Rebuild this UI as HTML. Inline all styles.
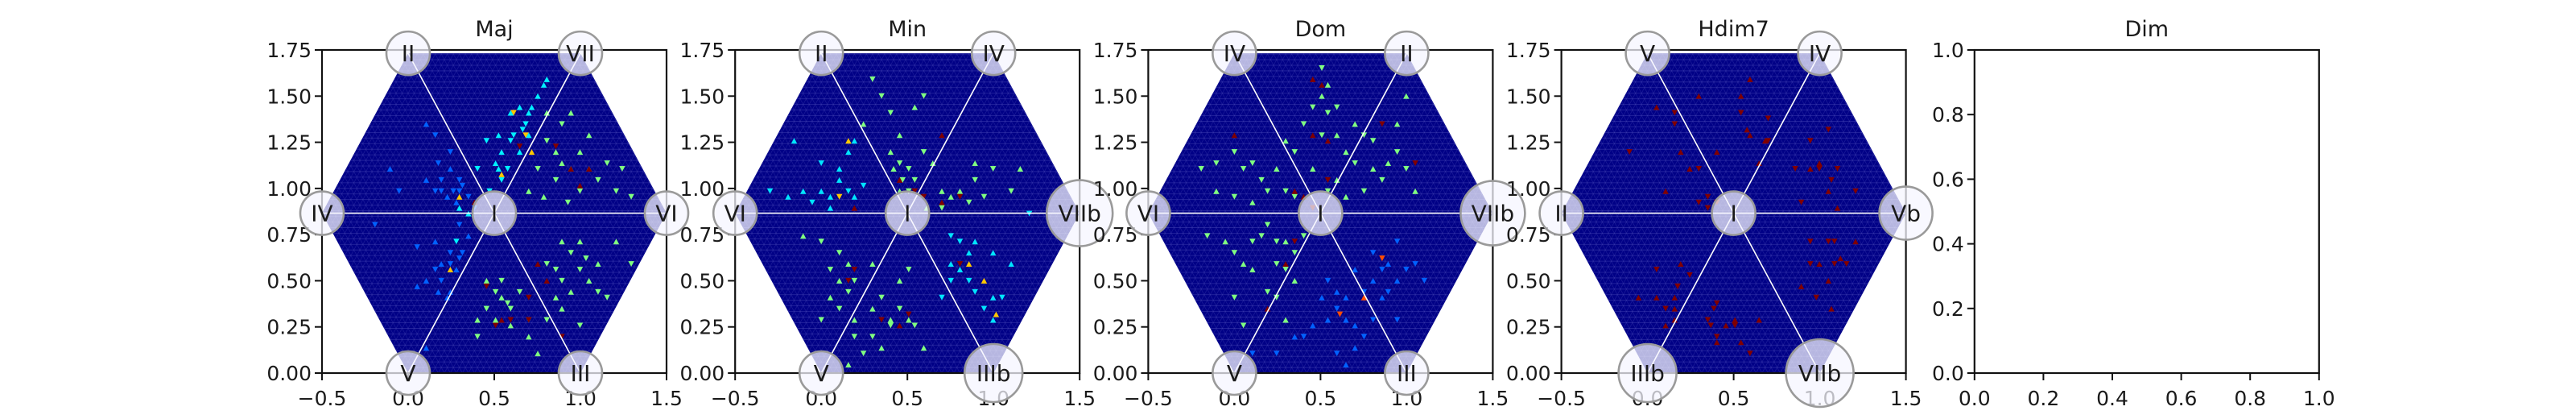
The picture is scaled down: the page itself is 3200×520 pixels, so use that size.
<!DOCTYPE html>
<html><head><meta charset="utf-8"><style>
html,body{margin:0;padding:0;background:#fff;width:3200px;height:520px;overflow:hidden}
svg{display:block}
text{font-family:"DejaVu Sans","Liberation Sans",sans-serif;fill:#1a1a1a}
</style></head><body>
<svg id="fig" width="3200" height="520" viewBox="0 0 3200 520" xmlns="http://www.w3.org/2000/svg"></svg>
<script>
// ---- data ----
const panelTitles = ["Maj","Min","Dom","Hdim7","Dim"];
const xTickLabels = ["−0.5","0.0","0.5","1.0","1.5"];
const xTickValues = [-0.5,0,0.5,1,1.5];
const yTickValues = [0,0.25,0.5,0.75,1,1.25,1.5,1.75];
const yTickLabels = ["0.00","0.25","0.50","0.75","1.00","1.25","1.50","1.75"];
const dimTickValues = [0,0.2,0.4,0.6,0.8,1];
const dimTickLabels = ["0.0","0.2","0.4","0.6","0.8","1.0"];
// vertex labels: center, left, right, top-left, top-right, bottom-left, bottom-right
const majLabels = ["I","IV","VI","II","VII","V","III"];
const minLabels = ["I","VI","VIIb","II","IV","V","IIIb"];
const domLabels = ["I","VI","VIIb","IV","II","V","III"];
const hdimLabels = ["I","II","Vb","V","IV","IIIb","VIIb"];
const minRadii = [27,27,41,27,27,27,36];
const domRadii = [27,27,40,27,27,27,27];
const hdimRadii = [27,27,33,27,27,36,42];
const majRadii = [27,27,27,27,27,27,27];
// cells: [x, y, value]
const majCells = [
[0.1,1.05,.22],[0.15,1.0,.22],[0.2,1.05,.22],[0.25,1.1,.22],[0.3,1.05,.22],[0.3,0.98,.22],[0.35,0.95,.22],[0.28,0.92,.22],[0.22,0.95,.22],[0.32,1.02,.22],[0.38,0.9,.22],[0.18,1.15,.22],[0.25,1.2,.22],[0.15,1.3,.22],[0.1,1.35,.22],[-0.1,1.1,.22],[-0.05,1.0,.22],[0.3,0.8,.22],[0.35,0.75,.22],[0.25,0.65,.22],[0.2,0.6,.22],[0.3,0.62,.22],[0.15,0.55,.22],[0.2,0.5,.22],[0.25,0.45,.22],[0.1,0.5,.22],[0.05,0.48,.22],[0.22,0.4,.22],[0.28,0.55,.22],[0.32,0.66,.22],[-0.2,0.8,.22],[0.05,0.68,.22],[0.1,0.15,.22],[0.15,0.7,.22],[0.27,1.0,.22],[0.2,0.98,.22],[0.24,0.58,.22],[0.18,0.44,.22],
[0.5,1.15,.36],[0.55,1.2,.36],[0.6,1.25,.36],[0.62,1.3,.36],[0.68,1.35,.36],[0.7,1.4,.36],[0.72,1.45,.36],[0.75,1.5,.36],[0.78,1.55,.36],[0.55,1.05,.36],[0.48,1.0,.36],[0.58,1.12,.36],[0.65,1.2,.36],[0.7,1.28,.36],[0.45,1.25,.36],[0.52,1.3,.36],[0.6,1.4,.36],[0.65,1.45,.36],[0.8,1.6,.36],[0.3,0.9,.36],[0.28,0.7,.36],[0.35,0.85,.36],[0.4,1.1,.36],[0.52,1.1,.36],[0.66,1.33,.36],
[0.55,1.07,.68],[0.62,1.42,.68],[0.68,1.3,.68],[0.3,0.95,.68],[0.25,0.55,.68],[0.72,1.2,.68],
[0.8,1.25,.5],[0.85,1.2,.5],[0.9,1.15,.5],[0.75,1.1,.5],[0.7,1.0,.5],[0.78,0.95,.5],[0.85,1.05,.5],[0.95,1.1,.5],[1.0,1.2,.5],[1.05,1.1,.5],[1.1,1.05,.5],[1.15,1.15,.5],[1.0,1.0,.5],[0.92,0.92,.5],[1.2,1.0,.5],[1.25,1.1,.5],[0.9,1.35,.5],[0.95,1.4,.5],[1.05,1.3,.5],[1.3,0.95,.5],[0.8,1.4,.5],
[0.5,0.45,.5],[0.55,0.4,.5],[0.45,0.35,.5],[0.4,0.3,.5],[0.5,0.3,.5],[0.6,0.35,.5],[0.65,0.45,.5],[0.55,0.5,.5],[0.6,0.25,.5],[0.7,0.3,.5],[0.7,0.2,.5],[0.75,0.1,.5],[0.8,0.6,.5],[0.85,0.55,.5],[0.9,0.5,.5],[0.95,0.45,.5],[1.0,0.55,.5],[1.05,0.5,.5],[1.1,0.6,.5],[0.9,0.7,.5],[0.95,0.65,.5],[1.0,0.7,.5],[1.1,0.45,.5],[1.15,0.4,.5],[0.9,0.35,.5],[1.0,0.25,.5],[0.85,0.4,.5],[0.8,0.3,.5],[1.2,0.7,.5],[1.3,0.6,.5],[0.45,0.5,.5],[0.4,0.2,.5],[0.58,0.38,.5],[1.03,0.62,.5],
[0.85,1.22,1],[0.95,1.12,1],[1.05,1.12,1],[0.75,0.6,1],[0.8,0.5,1],[0.45,0.46,1],[0.5,0.25,1],[0.55,0.3,1],[0.6,0.28,1],[0.7,0.28,1],[0.9,0.2,1],[0.7,0.42,1],[1.0,1.02,1],[0.65,1.22,1],[0.38,0.93,1]];
const minCells = [
[0.3,1.6,.5],[0.35,1.5,.5],[0.55,1.45,.5],[0.6,1.5,.5],[0.4,1.4,.5],[0.25,1.35,.5],[0.45,1.3,.5],[0.4,1.2,.5],[0.45,1.15,.5],[0.5,1.1,.5],[0.55,1.05,.5],[0.5,1.0,.5],[0.45,0.98,.5],[0.6,1.2,.5],[0.65,1.15,.5],[0.7,1.0,.5],[0.75,0.95,.5],[0.8,1.0,.5],[0.85,0.92,.5],[0.9,1.05,.5],[0.95,0.95,.5],[1.0,1.1,.5],[0.9,1.15,.5],[1.1,1.0,.5],[1.15,1.12,.5],[0.62,0.9,.5],[0.7,0.88,.5],[0.42,1.1,.5],[0.48,1.05,.5],
[-0.1,0.75,.5],[0.0,0.7,.5],[0.1,0.65,.5],[0.15,0.6,.5],[0.05,0.55,.5],[0.1,0.5,.5],[0.2,0.5,.5],[0.15,0.45,.5],[0.05,0.4,.5],[0.1,0.35,.5],[0.0,0.3,.5],[0.2,0.3,.5],[0.3,0.35,.5],[0.35,0.4,.5],[0.4,0.3,.5],[0.45,0.35,.5],[0.5,0.3,.5],[0.3,0.2,.5],[0.35,0.15,.5],[0.4,0.25,.5],[0.25,0.1,.5],[0.15,0.05,.5],[0.2,0.2,.5],[0.55,0.25,.5],[0.6,0.15,.5],[0.45,0.5,.5],[0.5,0.55,.5],[0.3,0.6,.5],
[-0.3,0.98,.35],[-0.2,0.95,.35],[-0.1,1.0,.35],[-0.05,0.92,.35],[0.0,0.98,.35],[0.05,0.95,.35],[0.1,1.05,.35],[0.15,1.0,.35],[0.2,0.95,.35],[0.25,1.02,.35],[0.0,1.15,.35],[0.1,1.12,.35],[0.15,1.2,.35],[0.2,1.25,.35],[-0.15,1.25,.35],[0.05,0.9,.35],[0.75,0.75,.35],[0.8,0.7,.35],[0.85,0.65,.35],[0.75,0.6,.35],[0.8,0.55,.35],[0.85,0.5,.35],[0.9,0.45,.35],[0.75,0.5,.35],[1.0,0.4,.35],[1.05,0.4,.35],[0.95,0.35,.35],[1.0,0.3,.35],[1.1,0.6,.35],[1.2,0.85,.35],[0.9,0.7,.35],[1.0,0.65,.35],[0.7,0.4,.35],
[0.85,0.58,.68],[0.95,0.5,.68],[1.02,0.32,.68],[0.15,1.27,.68],[0.1,0.95,.68],
[0.45,1.05,1],[0.55,0.98,1],[0.6,0.95,1],[0.7,0.92,1],[0.8,0.95,1],[0.7,1.3,1],[0.2,0.55,1],[0.15,0.5,1],[0.35,0.3,1],[0.45,0.25,1],[0.5,0.32,1],[0.8,0.6,1],[0.2,0.9,1]];
const domCells = [
[0.5,1.65,.5],[0.55,1.55,.5],[0.5,1.5,.5],[0.45,1.45,.5],[0.55,1.4,.5],[0.6,1.45,.5],[0.4,1.35,.5],[0.5,1.3,.5],[0.6,1.3,.5],[0.7,1.35,.5],[0.75,1.3,.5],[0.8,1.25,.5],[0.65,1.2,.5],[0.7,1.15,.5],[0.8,1.1,.5],[0.85,1.05,.5],[0.9,1.15,.5],[0.95,1.2,.5],[1.0,1.1,.5],[1.05,1.0,.5],[0.75,1.0,.5],[0.65,0.95,.5],[0.6,1.05,.5],[0.55,1.0,.5],[0.45,1.1,.5],[0.35,1.2,.5],[0.3,1.25,.5],[0.95,1.35,.5],[1.0,1.5,.5],
[-0.2,1.1,.5],[-0.1,1.15,.5],[0.0,1.2,.5],[0.05,1.1,.5],[0.1,1.15,.5],[0.15,1.05,.5],[0.2,1.0,.5],[0.25,1.1,.5],[0.3,1.0,.5],[0.35,0.95,.5],[-0.1,1.0,.5],[0.0,0.95,.5],[0.1,0.92,.5],[-0.15,0.75,.5],[-0.05,0.7,.5],[0.0,0.65,.5],[0.1,0.7,.5],[0.15,0.75,.5],[0.2,0.8,.5],[0.25,0.72,.5],[0.3,0.7,.5],[0.35,0.65,.5],[0.25,0.6,.5],[0.3,0.55,.5],[0.35,0.5,.5],[0.2,0.45,.5],[0.1,0.55,.5],[0.05,0.6,.5],[0.4,0.75,.5],[0.0,0.4,.5],[0.05,0.25,.5],[0.25,0.4,.5],[0.3,0.3,.5],
[0.55,0.5,.22],[0.6,0.45,.22],[0.65,0.4,.22],[0.6,0.35,.22],[0.55,0.3,.22],[0.65,0.3,.22],[0.7,0.25,.22],[0.75,0.2,.22],[0.7,0.15,.22],[0.8,0.5,.22],[0.85,0.55,.22],[0.9,0.6,.22],[0.95,0.5,.22],[1.0,0.55,.22],[1.05,0.6,.22],[0.9,0.45,.22],[0.85,0.4,.22],[0.75,0.45,.22],[0.8,0.65,.22],[0.95,0.7,.22],[0.5,0.4,.22],[0.45,0.25,.22],[0.4,0.2,.22],[0.35,0.2,.22],[0.6,0.1,.22],[0.65,0.05,.22],[0.25,0.1,.22],[0.1,0.1,.22],[1.1,0.5,.22],[0.95,0.3,.22],[0.8,0.3,.22],[0.7,0.55,.22],
[0.62,0.32,.8],[0.75,0.42,.8],[0.85,0.62,.8],
[0.45,1.6,1],[0.5,1.55,1],[0.45,1.28,1],[0.55,1.25,1],[0.35,1.0,1],[0.4,0.95,1],[0.45,0.9,1],[0.55,1.05,1],[0.85,1.35,1],[1.05,1.15,1],[0.35,0.7,1],[0.3,0.58,1],[0.2,0.35,1],[0.0,1.3,1]];
const hdimCells = [
[0.6,1.6,1],[0.05,1.45,1],[0.15,1.4,1],[0.15,1.34,1],[0.3,1.5,1],[0.55,1.5,1],[0.55,1.42,1],[0.58,1.32,1],[0.6,1.3,1],[0.7,1.38,1],[0.68,1.25,1],[0.7,1.25,1],[-0.1,1.2,1],[0.2,1.2,1],[0.25,1.12,1],[0.3,1.12,1],[0.4,1.2,1],[0.65,1.15,1],[0.1,1.0,1],[0.35,0.95,1],[0.3,0.92,1],[0.4,0.92,1],[0.35,0.9,1],[0.95,1.27,1],[1.05,1.32,1],[1.0,1.15,1],[1.0,1.12,1],[0.95,1.1,1],[1.1,1.1,1],[1.07,1.05,1],[0.85,1.1,1],[1.05,1.0,1],[1.2,0.97,1],[0.9,0.93,1],[1.1,0.9,1],
[0.05,0.55,1],[0.2,0.6,1],[0.25,0.52,1],[0.17,0.48,1],[0.17,0.46,1],[0.15,0.42,1],[0.05,0.42,1],[0.1,0.35,1],[0.15,0.36,1],[0.15,0.3,1],[0.1,0.27,1],[-0.05,0.42,1],[0.4,0.38,1],[0.38,0.34,1],[0.35,0.3,1],[0.4,0.2,1],[0.4,0.16,1],[0.45,0.27,1],[0.5,0.3,1],[0.5,0.27,1],[0.37,0.25,1],[0.55,0.18,1],[0.65,0.3,1],[0.6,0.1,1],[0.9,0.48,1],[0.95,0.7,1],[0.95,0.6,1],[1.05,0.72,1],[1.08,0.7,1],[1.2,0.7,1],[1.0,0.6,1],[1.08,0.58,1],[1.12,0.62,1],[1.05,0.5,1],[0.98,0.42,1],[1.07,0.35,1],[1.15,0.6,1]];
const panelCells = [majCells,minCells,domCells,hdimCells];
const panelLabels = [majLabels,minLabels,domLabels,hdimLabels];
const panelRadii = [majRadii,minRadii,domRadii,hdimRadii];

// ---- drawing ----
const NS="http://www.w3.org/2000/svg";
const svg=document.getElementById('fig');
function mk(tag,attrs,parent){const e=document.createElementNS(NS,tag);for(const k in attrs)e.setAttribute(k,attrs[k]);(parent||svg).appendChild(e);return e;}
const AX_W=428, AX_H=401, AX_TOP=62, AX_X0=400, AX_STEP=513.2;
function jet(v){const c=t=>Math.round(255*Math.max(0,Math.min(1,t)));return `rgb(${c(1.5-Math.abs(4*v-3))},${c(1.5-Math.abs(4*v-2))},${c(1.5-Math.abs(4*v-1))})`;}
const S3=Math.sqrt(3)/2;

for(let p=0;p<5;p++){
  const left=AX_X0+p*AX_STEP, right=left+AX_W, bottom=AX_TOP+AX_H;
  const g=mk('g',{});
  
  
  const isDim=p===4;
  const xr=isDim?[0,1]:[-0.5,1.5], yr=isDim?[0,1]:[0,1.75];
  const X=v=>left+(v-xr[0])/(xr[1]-xr[0])*AX_W;
  const Y=v=>bottom-(v-yr[0])/(yr[1]-yr[0])*AX_H;
  const title=mk('text',{x:(left+right)/2,y:45,'font-size':27,'text-anchor':'middle'},g);
  title.textContent=panelTitles[p];
  
  
  let circles=null;
  if(!isDim){
    const verts=[[0,0],[1,0],[1.5,S3],[1,2*S3],[0,2*S3],[-0.5,S3]];
    const pts=verts.map(v=>X(v[0])+','+Y(v[1])).join(' ');
    const cid='clip'+p;
    const cp=mk('clipPath',{id:cid},g);mk('polygon',{points:pts},cp);
    const hex=mk('polygon',{points:pts,fill:'#000086'},g);
    
    
    const lat=mk('g',{'clip-path':`url(#${cid})`,stroke:'#4a4ab8','stroke-width':0.8,'stroke-opacity':0.55},g);
    const s=0.035,h=s*S3;
    for(let r=0;r*h<=2*S3+1e-6;r++){mk('line',{x1:X(-0.5),x2:X(1.5),y1:Y(r*h),y2:Y(r*h)},lat);}
    for(let k=-70;k<=70;k++){const x0=k*s;
      mk('line',{x1:X(x0),y1:Y(0),x2:X(x0+1),y2:Y(2*S3),'stroke-opacity':0.35},lat);
      mk('line',{x1:X(x0),y1:Y(0),x2:X(x0-1),y2:Y(2*S3),'stroke-opacity':0.35},lat);}
    const cg=mk('g',{'clip-path':`url(#${cid})`},g);
    panelCells[p].forEach(c=>{
      const row=Math.floor(c[1]/h), col=Math.round(c[0]/(s/2));
      const up=((col+row)%2+2)%2===0;
      const cx=col*s/2, yb=row*h, yt=yb+h;
      const tri=up?[[cx-s/2,yb],[cx+s/2,yb],[cx,yt]]:[[cx-s/2,yt],[cx+s/2,yt],[cx,yb]];
      const t=mk('polygon',{points:tri.map(q=>X(q[0])+','+Y(q[1])).join(' '),fill:jet(c[2])},cg);
      
      
    });
    const cx=X(0.5),cy=Y(S3);
    const sp=mk('g',{stroke:'#ffffff','stroke-width':1.6},g);
    verts.forEach(v=>{const l=mk('line',{x1:cx,y1:cy,x2:X(v[0]),y2:Y(v[1])},sp);
      
      });
    circles=()=>{
      const pos=[[0.5,S3],[-0.5,S3],[1.5,S3],[0,2*S3],[1,2*S3],[0,0],[1,0]];
      pos.forEach((q,i)=>{
        const cc=mk('circle',{cx:X(q[0]),cy:Y(q[1]),r:panelRadii[p][i],fill:'rgba(246,246,255,0.74)',stroke:'#9a9a9a','stroke-width':2.6},g);
        
        
        const tx=mk('text',{x:X(q[0]),y:Y(q[1])+10,'font-size':28,'text-anchor':'middle'},g);
        tx.textContent=panelLabels[p][i];
        
        
      });
    };
  }
  const fr=mk('rect',{x:left,y:AX_TOP,width:AX_W,height:AX_H,fill:'none',stroke:'#111','stroke-width':2.2},g);
  
  
  const xv=isDim?dimTickValues:xTickValues, xl=isDim?dimTickLabels:xTickLabels;
  const yv=isDim?dimTickValues:yTickValues, yl=isDim?dimTickLabels:yTickLabels;
  xv.forEach((v,i)=>{mk('line',{x1:X(v),x2:X(v),y1:bottom,y2:bottom+9,stroke:'#111','stroke-width':2},g);
    const t=mk('text',{x:X(v),y:503,'font-size':25,'text-anchor':'middle'},g);t.textContent=xl[i];
    
    });
  yv.forEach((v,i)=>{mk('line',{x1:left-9,x2:left,y1:Y(v),y2:Y(v),stroke:'#111','stroke-width':2},g);
    const t=mk('text',{x:left-13,y:Y(v)+9,'font-size':25,'text-anchor':'end'},g);t.textContent=yl[i];
    
    });
  if(circles)circles();
}
</script>
</body></html>
